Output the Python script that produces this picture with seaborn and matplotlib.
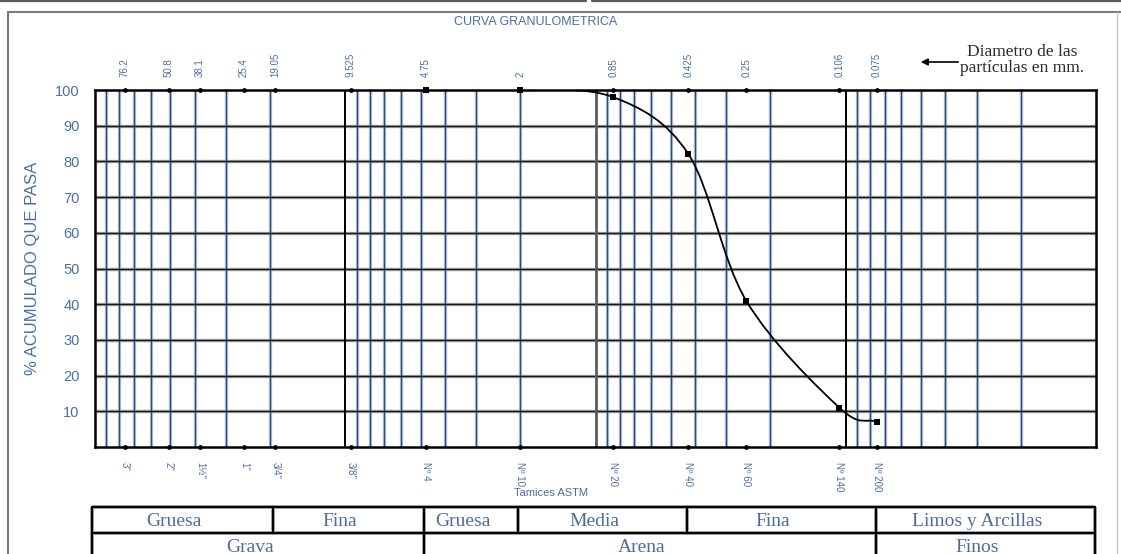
import numpy as np
import matplotlib
matplotlib.use("Agg")
import matplotlib.pyplot as plt
import matplotlib.transforms as mtransforms
import seaborn as sns
from matplotlib.path import Path
from matplotlib.patches import PathPatch
from matplotlib.lines import Line2D
from matplotlib.ticker import NullLocator

# ASTM sieve openings (mm) and their designations
sieve_mm = [76.2, 50.8, 38.1, 25.4, 19.05, 9.525, 4.75, 2, 0.85, 0.425, 0.25, 0.106, 0.075]
sieve_mm_labels = ["76.2", "50.8", "38.1", "25.4", "19.05", "9.525", "4.75", "2",
                   "0.85", "0.425", "0.25", "0.106", "0.075"]
sieve_names = ['3"', '2"', '1½"', '1"', '3/4"', '3/8"', 'Nº 4', 'Nº 10',
               'Nº 20', 'Nº 40', 'Nº 60', 'Nº 140', 'Nº 200']

# Grading curve: cumulative percent passing
curve_mm = [4.75, 2, 0.85, 0.425, 0.25, 0.106, 0.075]
curve_pass = [100, 100, 98, 82, 41, 11, 7]

y_ticks = [10, 20, 30, 40, 50, 60, 70, 80, 90, 100]

# Soil classification bands (limits in mm)
band_edges_top = [100, 19.05, 4.75, 2, 0.425, 0.075, 0.01]
band_names_top = ["Gruesa", "Fina", "Gruesa", "Media", "Fina", "Limos y Arcillas"]
band_edges_bottom = [100, 4.75, 0.075, 0.01]
band_names_bottom = ["Grava", "Arena", "Finos"]

sns.set_style("white")
plt.rcParams["font.family"] = ["Liberation Sans", "DejaVu Sans"]

BLUE_TXT = "#4a6fa5"
W, H = 1121, 554
fig = plt.figure(figsize=(W / 100, H / 100), dpi=100)

# ---- main grading chart ----
ax = fig.add_axes([95 / W, 1 - 447 / H, 1001 / W, 357 / H])
ax.set_xscale("log")
ax.set_xlim(100, 0.01)
ax.set_ylim(0, 100)

# log-paper grid: blue sub-decade lines, dark decade lines
for dec in (10, 1, 0.1, 0.01):
    for s in range(2, 10):
        ax.axvline(s * dec, color="#b4c4da", lw=2.4, zorder=1)
        ax.axvline(s * dec, color="#2c4a7a", lw=0.9, zorder=1.1)
for y in y_ticks[:-1]:
    ax.axhline(y, color="#a5a5a5", lw=2.4, zorder=1)
    ax.axhline(y, color="#1a1a1a", lw=1.0, zorder=1.1)
for dec, col, lw in ((10, "black", 1.4), (1, "#5c5c5c", 2.0), (0.1, "black", 1.4)):
    ax.axvline(dec, color=col, lw=lw, zorder=1.2)

for sp in ax.spines.values():
    sp.set_color("black")
    sp.set_linewidth(1.8)
    sp.set_zorder(4)

# sieve markers along the top and bottom edges
ymin, ymax = ax.get_ylim()
sns.scatterplot(x=sieve_mm, y=[ymax] * len(sieve_mm), ax=ax, color="black",
                s=12, linewidth=0, clip_on=False, zorder=6, legend=False)
sns.scatterplot(x=sieve_mm, y=[ymin] * len(sieve_mm), ax=ax, color="black",
                s=12, linewidth=0, clip_on=False, zorder=6, legend=False)

# smoothed grading curve (Catmull-Rom through the points, in log-x space)
P = np.column_stack([np.log10(curve_mm), np.asarray(curve_pass, float)])
ext = np.vstack([2 * P[0] - P[1], P, 2 * P[-1] - P[-2]])
verts, codes = [P[0]], [Path.MOVETO]
for i in range(len(P) - 1):
    p0, p1, p2, p3 = ext[i], ext[i + 1], ext[i + 2], ext[i + 3]
    verts += [p1 + (p2 - p0) / 6, p2 - (p3 - p1) / 6, p2]
    codes += [Path.CURVE4] * 3
verts = np.array(verts)
verts[:, 0] = 10 ** verts[:, 0]
ax.add_patch(PathPatch(Path(verts, codes), fill=False, ec="black", lw=1.3, zorder=5))

sns.scatterplot(x=curve_mm, y=curve_pass, ax=ax, marker="s", s=24, color="black",
                linewidth=0, clip_on=False, zorder=7, legend=False)

ax.set_xlim(100, 0.01)
ax.set_ylim(0, 100)
ax.xaxis.set_major_locator(NullLocator())
ax.xaxis.set_minor_locator(NullLocator())
ax.set_xlabel("")
ax.set_yticks(y_ticks)
ax.tick_params(axis="y", length=0, pad=11, labelsize=10.5, labelcolor=BLUE_TXT)
ax.set_ylabel("% ACUMULADO QUE PASA", fontsize=12, color=BLUE_TXT)
ax.yaxis.set_label_coords(-0.055, 0.5)

# sieve openings on top, sieve designations underneath
top = ax.secondary_xaxis("top")
top.set_xticks(sieve_mm, labels=sieve_mm_labels)
top.xaxis.set_minor_locator(NullLocator())
top.tick_params(length=0, pad=9.5, labelsize=7, labelrotation=90, labelcolor=BLUE_TXT)
top.spines["top"].set_visible(False)

bot = ax.secondary_xaxis("bottom")
bot.set_xticks(sieve_mm, labels=sieve_names)
bot.xaxis.set_minor_locator(NullLocator())
bot.tick_params(length=0, pad=10.5, labelsize=7, labelrotation=270, labelcolor=BLUE_TXT)
bot.spines["bottom"].set_visible(False)

fig.text(536 / W, 1 - 22 / H, "CURVA GRANULOMETRICA", fontsize=9, color=BLUE_TXT,
         ha="center", va="center")
fig.text(551 / W, 1 - 493 / H, "Tamices ASTM", fontsize=8, color=BLUE_TXT,
         ha="center", va="center")

ax.annotate("", xy=(918, H - 62), xytext=(961, H - 62),
            xycoords="figure pixels", textcoords="figure pixels",
            arrowprops=dict(arrowstyle="-|>", color="black", lw=1.2, mutation_scale=10))
fig.text(1022 / W, 1 - 60 / H, "Diametro de las\npartículas en mm.",
         family="Liberation Serif", fontsize=12.5, color="#2b2b2b",
         ha="center", va="center", linespacing=0.95)

# ---- classification table ----
tax = fig.add_axes([92 / W, 1 - 559 / H, 1003 / W, 52 / H])
tax.set_xscale("log")
tax.set_xlim(100, 0.01)
tax.set_ylim(2, 0)
tax.axis("off")

def table_line(xs, ys):
    tax.plot(xs, ys, color="#9a9a9a", lw=2.8, clip_on=False, zorder=1,
             solid_capstyle="butt")
    tax.plot(xs, ys, color="black", lw=1.4, clip_on=False, zorder=2,
             solid_capstyle="projecting")

for yrow in (0, 1, 2):
    table_line([band_edges_top[0], band_edges_top[-1]], [yrow, yrow])
for xe in band_edges_top:
    table_line([xe, xe], [0, 1])
for xe in band_edges_bottom:
    table_line([xe, xe], [1, 2])

shift = mtransforms.offset_copy(tax.transData, fig=fig, x=-8, y=0, units="dots")
for row, (edges, names) in enumerate(((band_edges_top, band_names_top),
                                      (band_edges_bottom, band_names_bottom))):
    for i, name in enumerate(names):
        xc = np.sqrt(edges[i] * edges[i + 1])
        tax.text(xc, row + 0.55, name, transform=shift, ha="center", va="center",
                 family="Liberation Serif", fontsize=14, color="#4f6c9e")

# ---- sheet frame ----
def frame(x0, y0, x1, y1, color, lw):
    fig.add_artist(Line2D([x0 / W, x1 / W], [1 - y0 / H, 1 - y1 / H],
                          transform=fig.transFigure, color=color, lw=lw))

frame(0, 1, 586, 1, "#5e5e5e", 1.6)
frame(592, 1, W, 1, "#5e5e5e", 1.6)
frame(8, 12, W, 12, "#7a7a7a", 1.5)
frame(8, 12, 8, H, "#7a7a7a", 1.5)
frame(1117, 12, 1117, H, "#c8c8c8", 1.0)

fig.savefig("out.png", dpi=100)
